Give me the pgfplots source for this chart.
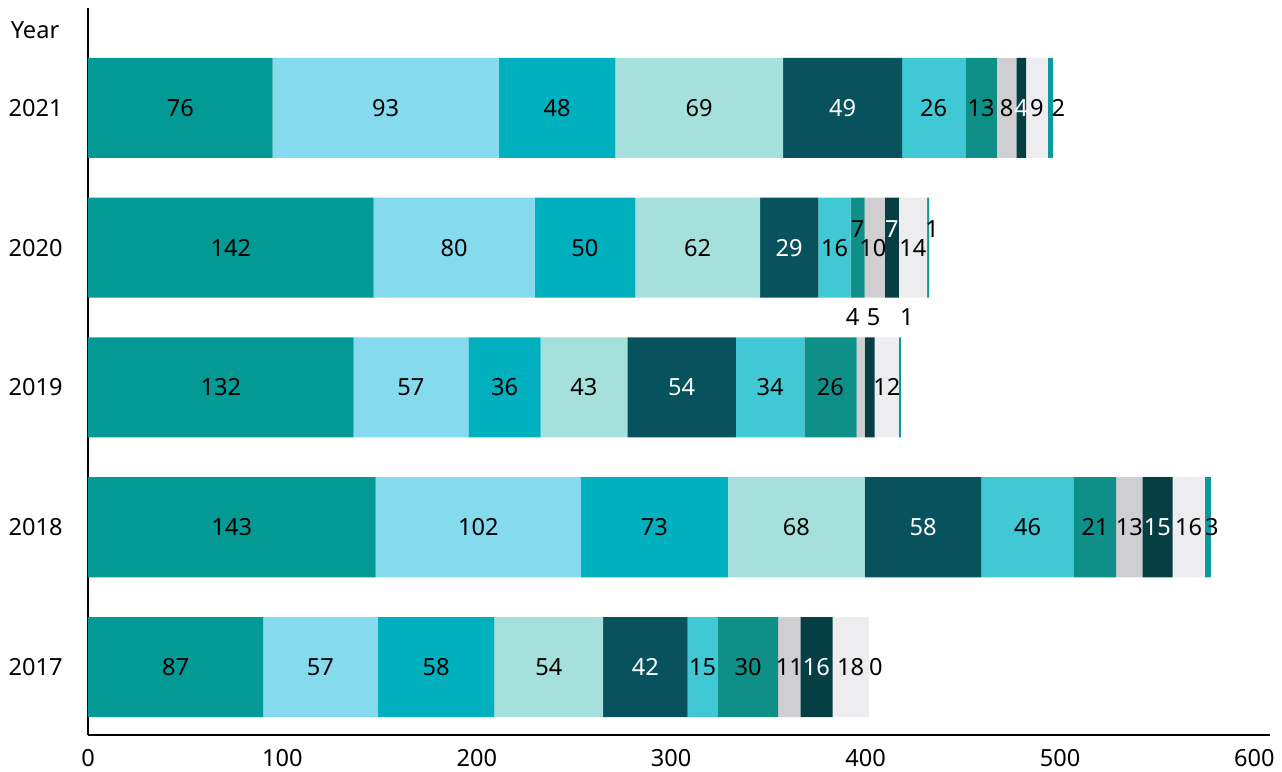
\documentclass[border=0pt]{standalone}
\usepackage{pgfplots}
\pgfplotsset{compat=1.18}
\usepackage{fontspec}
\setmainfont{Noto Sans}

\definecolor{c1}{HTML}{039A96}
\definecolor{c2}{HTML}{86DAEE}
\definecolor{c3}{HTML}{00B0BE}
\definecolor{c4}{HTML}{A6E0DC}
\definecolor{c5}{HTML}{08525E}
\definecolor{c6}{HTML}{40C8D4}
\definecolor{c7}{HTML}{0E8F88}
\definecolor{c8}{HTML}{CFCFD2}
\definecolor{c9}{HTML}{053F44}
\definecolor{c10}{HTML}{EDEDEF}
\definecolor{c11}{HTML}{0A9A9C}

\begin{document}
\fontsize{11.8}{14}\selectfont
\begin{tikzpicture}
\begin{axis}[
    xbar stacked,
    scale only axis,
    width=591pt, height=363.5pt,
    bar width=50pt,
    xmin=0, xmax=608,
    ymin=-0.486, ymax=4.714,
    axis x line*=bottom,
    axis y line*=left,
    axis line style={line width=0.8pt, black},
    major tick length=0pt,
    xtick={0,100,...,600},
    ytick={0,1,2,3,4},
    yticklabels={2017,2018,2019,2020,2021},
    yticklabel style={xshift=-8.5pt},
    xticklabel style={inner sep=0pt, yshift=-7pt},
    /pgf/number format/assume math mode=true,
    ylabel={Year},
    every axis y label/.style={at={(rel axis cs:0,1)}, anchor=center,
        xshift=-26.5pt, yshift=-11pt},
    point meta=explicit symbolic,
    nodes near coords,
    visualization depends on={\thisrow{dx} \as \dx},
    visualization depends on={\thisrow{dy} \as \dy},
    visualization depends on={value \thisrow{tc} \as \tc},
    every node near coord/.append style={anchor=center, inner sep=0pt,
        text=\tc, xshift=\dx pt, yshift=\dy pt},
]
\addplot[fill=c1, draw=none] table[x=w, y=y, meta=lab] {
y w lab dx dy tc
4 95 76 0 0 black
3 146.97 142 0 0 black
2 136.62 132 0 0 black
1 148.0 143 0 0 black
0 90.05 87 0 0 black
};
\addplot[fill=c2, draw=none] table[x=w, y=y, meta=lab] {
y w lab dx dy tc
4 116.25 93 0 0 black
3 82.8 80 0 0 black
2 59.0 57 0 0 black
1 105.57 102 0 0 black
0 59.0 57 0 0 black
};
\addplot[fill=c3, draw=none] table[x=w, y=y, meta=lab] {
y w lab dx dy tc
4 60 48 0 0 black
3 51.75 50 0 0 black
2 37.26 36 0 0 black
1 75.56 73 0 0 black
0 60.03 58 0 0 black
};
\addplot[fill=c4, draw=none] table[x=w, y=y, meta=lab] {
y w lab dx dy tc
4 86.25 69 0 0 black
3 64.17 62 0 0 black
2 44.5 43 0 0 black
1 70.38 68 0 0 black
0 55.89 54 0 0 black
};
\addplot[fill=c5, draw=none] table[x=w, y=y, meta=lab] {
y w lab dx dy tc
4 61.25 49 0 0 white
3 30.02 29 0 0 white
2 55.89 54 0 0 white
1 60.03 58 0 0 white
0 43.47 42 0 0 white
};
\addplot[fill=c6, draw=none] table[x=w, y=y, meta=lab] {
y w lab dx dy tc
4 32.5 26 0 0 black
3 16.56 16 0 0 black
2 35.19 34 0 0 black
1 47.61 46 0 0 black
0 15.53 15 0 0 black
};
\addplot[fill=c7, draw=none] table[x=w, y=y, meta=lab] {
y w lab dx dy tc
4 16.25 13 0 0 black
3 7.245 7 0 9.5 black
2 26.91 26 0 0 black
1 21.74 21 0 0 black
0 31.05 30 0 0 black
};
\addplot[fill=c8, draw=none] table[x=w, y=y, meta=lab] {
y w lab dx dy tc
4 10 8 0 0 black
3 10.35 10 -1 0 black
2 4.14 4 -4 35 black
1 13.46 13 0 0 black
0 11.39 11 0 0 black
};
\addplot[fill=c9, draw=none] table[x=w, y=y, meta=lab] {
y w lab dx dy tc
4 5 4 0 0 white
3 7.245 7 0 9.5 white
2 5.175 5 2 35 black
1 15.53 15 0 0 white
0 16.56 16 0 0 white
};
\addplot[fill=c10, draw=none] table[x=w, y=y, meta=lab] {
y w lab dx dy tc
4 11.25 9 0 0 black
3 14.49 14 0 0 black
2 12.42 12 0 0 black
1 16.56 16 0 0 black
0 18.63 18 0 0 black
};
\addplot[fill=c11, draw=none] table[x=w, y=y, meta=lab] {
y w lab dx dy tc
4 2.5 2 4 0 black
3 1.035 1 2 9.5 black
2 1.035 1 3.5 35 black
1 3.1 3 2 0 black
0 0.001 0 3.5 0 black
};
\coordinate (sw) at (rel axis cs:0,0);
\coordinate (ne) at (rel axis cs:1,1);
\end{axis}
\pgfresetboundingbox
\path[use as bounding box] ([shift={(-44pt,-18pt)}]sw) rectangle ([shift={(6pt,4pt)}]ne);
\end{tikzpicture}
\end{document}
